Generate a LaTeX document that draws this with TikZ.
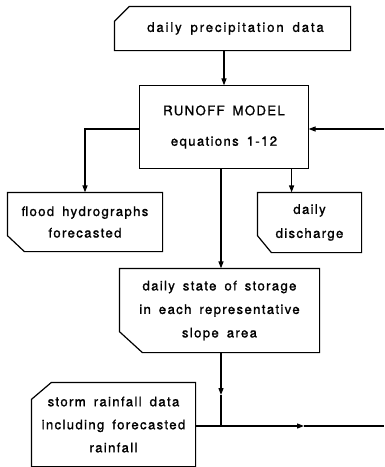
\documentclass[tikz,border=0pt]{standalone}
\usepackage{fontspec}
\setmainfont{TeX Gyre Heros}[LetterSpace=10,WordSpace=1.6,FakeBold=1.2]
\usetikzlibrary{arrows.meta}
\newcommand\cutNW[3]{\draw ([yshift=-#3pt]#1.north west) -- ([xshift=#2pt]#1.north west) -- (#1.north east) -- (#1.south east) -- (#1.south west) -- cycle;}
\newcommand\cutSW[3]{\draw (#1.north west) -- (#1.north east) -- (#1.south east) -- ([xshift=#2pt]#1.south west) -- ([yshift=#3pt]#1.south west) -- cycle;}
\begin{document}
\begin{tikzpicture}[x=1pt,y=-1pt,line width=1.2pt,line join=miter,
  box/.style={draw=none,inner sep=0pt,align=center,font=\fontsize{13.2}{23.5}\selectfont},
  arr/.style={-{Triangle[length=7pt,width=5pt]}}]
\useasboundingbox (0,0) rectangle (384,467);
\node[box,minimum width=235pt,minimum height=43pt,font=\fontsize{13.2}{23.5}\selectfont\addfontfeature{LetterSpace=14}] (top) at (232.5,28.5) {\hspace*{6pt}daily precipitation data};
\node[box,minimum width=168pt,minimum height=82pt] (model) at (224,127) {RUNOFF MODEL\\[7pt]equations 1-12};
\node[box,minimum width=154pt,minimum height=58pt,font=\fontsize{13.2}{21.5}\selectfont] (flood) at (85,222) {flood hydrographs\\forecasted};
\node[box,minimum width=103pt,minimum height=59pt,font=\fontsize{13.2}{24}\selectfont] (dis) at (309.5,222.5) {daily\\discharge};
\node[box,minimum width=199pt,minimum height=83pt] (stor) at (219.5,310.5) {daily state of storage\\in each representative\\slope area};
\node[box,minimum width=163pt,minimum height=83pt,font=\fontsize{13.2}{23}\selectfont] (storm) at (113.5,424.5) {storm rainfall data\\including forecasted\\rainfall};
\cutNW{top}{15}{15}
\draw (model.north west) rectangle (model.south east);
\cutSW{flood}{17}{16}
\cutSW{dis}{14}{17}
\cutSW{stor}{23}{21}
\cutNW{storm}{20}{17}
\coordinate (vx) at (221,0);
\coordinate (rin) at (384,129);
\coordinate (j) at (221,426);
\coordinate (vmid) at (221,395);
\coordinate (hmid) at (304,426);
\coordinate (rout) at (384,426);
\draw[arr] (model.north |- top.south) -- (model.north);
\draw[arr] ([yshift=-2pt]model.west) -| (flood.north);
\draw[arr] ([xshift=-17pt]model.south east) -- ([xshift=-17pt]model.south east |- dis.north);
\draw[arr] (rin) -- (rin -| model.east);
\draw[arr] (vx |- model.south) -- (vx |- stor.north);
\draw[arr] (vx |- stor.south) -- (vmid);
\draw (vmid) -- (j);
\draw[arr] (storm.east |- j) -- (hmid);
\draw (hmid) -- (rout);
\end{tikzpicture}
\end{document}
